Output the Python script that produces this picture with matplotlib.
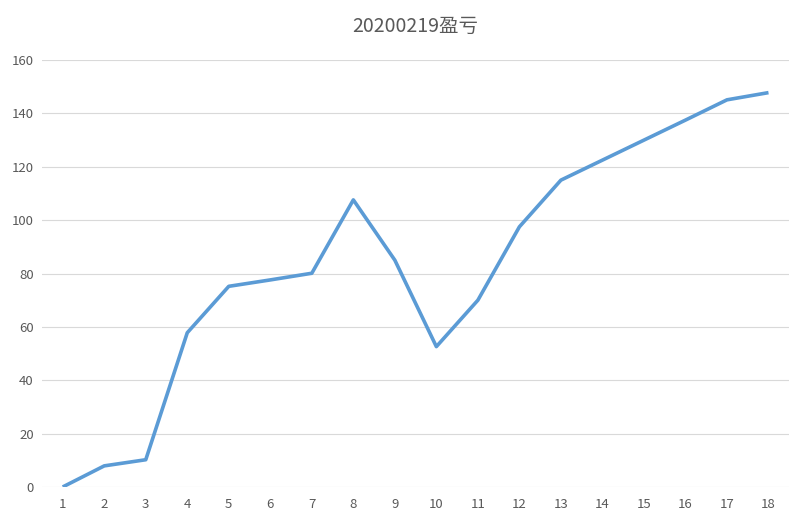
import matplotlib
matplotlib.use('Agg')
from matplotlib import pyplot as plt

plt.rcParams['font.family'] = ['Noto Sans CJK SC', 'DejaVu Sans']

days = list(range(1, 19))
profit = [0, 7.9, 10.2, 57.8, 75.2, 77.6, 80.1, 107.6, 85.0, 52.6,
          70.0, 97.5, 115.0, 122.5, 130.0, 137.5, 145.1, 147.8]
yticks = [0, 20, 40, 60, 80, 100, 120, 140, 160]
title = '20200219盈亏'

fig = plt.figure(figsize=(8.07, 5.27), dpi=100)
ax = fig.add_axes([0.052, 0.076, 0.926, 0.81])

ax.plot(days, profit, color='#5B9BD5', linewidth=2.6, solid_joinstyle='round',
        solid_capstyle='butt', zorder=3)

ax.set_xlim(0.5, 18.5)
ax.set_ylim(0, 160)
ax.set_xticks(days)
ax.set_yticks(yticks)
ax.grid(True, axis='y', color='#D9D9D9', linewidth=0.8)
ax.set_axisbelow(True)
for s in ax.spines.values():
    s.set_visible(False)
ax.tick_params(length=0, labelsize=9.5, colors='#595959', pad=8)
ax.tick_params(axis='y', pad=6)
ax.set_title(title, fontsize=14, color='#595959', pad=20)

fig.savefig('out.png', dpi=100)
